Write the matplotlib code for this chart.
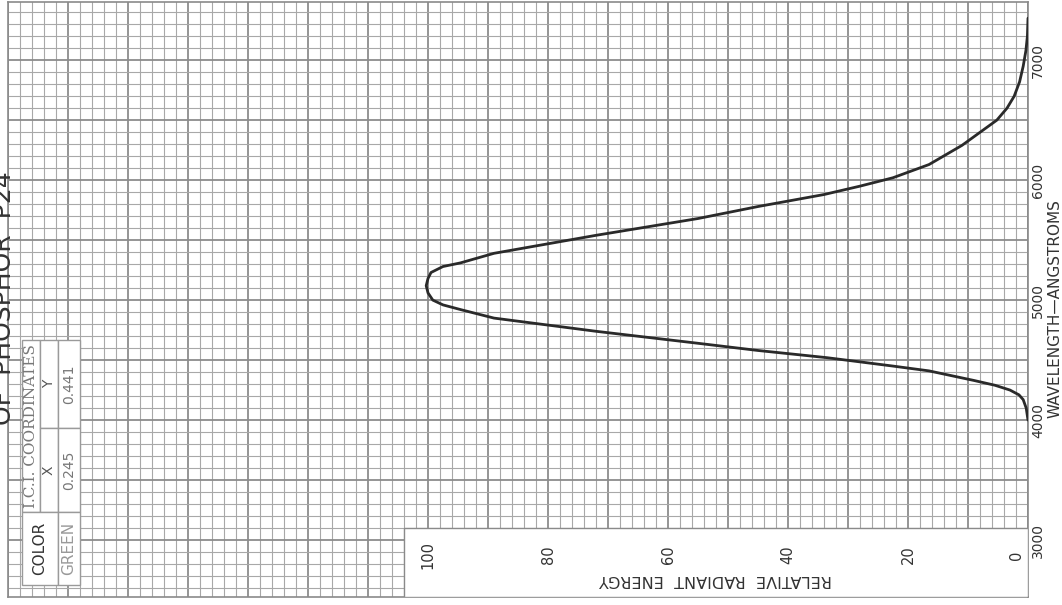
import numpy as np
import matplotlib
matplotlib.use("Agg")
import matplotlib.pyplot as plt
from matplotlib.patches import Rectangle

# spectral energy curve of phosphor P24 (page is scanned rotated 90 deg)
WAVELENGTH = [4000, 4100, 4170, 4210, 4250, 4290, 4330, 4410, 4450, 4520, 4580,
              4640, 4740, 4850, 4920, 4960, 5000, 5060, 5120, 5180, 5230, 5280,
              5310, 5390, 5540, 5680, 5780, 5830, 5880, 5950, 6020, 6130, 6290,
              6500, 6600, 6700, 6820, 6950, 7080, 7200, 7350]
ENERGY = [0, 0.3, 0.8, 1.5, 3.0, 5.5, 9, 16.5, 22.5, 33.5, 45,
          55, 72, 89, 94.5, 97.5, 99.2, 100, 100.3, 100, 99.5, 97.5,
          94.6, 89, 72, 55, 45, 39.5, 34, 28, 22.5, 16.5, 11,
          5.2, 3.5, 2.3, 1.4, 0.8, 0.35, 0.1, 0]

WL_TICKS = [3000, 4000, 5000, 6000, 7000]
EN_TICKS = [0, 20, 40, 60, 80, 100]

COLOR_NAME = "GREEN"
ICI_X = "0.245"
ICI_Y = "0.441"

W, H = 1062, 605
fig = plt.figure(figsize=(W / 100, H / 100), dpi=100)
fig.patch.set_facecolor("white")

# axes placed in pixels
left, right, top, bottom = 8, 1028, 2, 597
ax = fig.add_axes([left / W, (H - bottom) / H, (right - left) / W, (bottom - top) / H])
ax.set_xlim(170, 0)
ax.set_ylim(2525, 7485)
ax.set_xticks([])
ax.set_yticks([])
for s in ax.spines.values():
    s.set_color("#8a8a8a")
    s.set_linewidth(1.2)

minor_c, major_c = "#a8a8a8", "#8c8c8c"
for e in np.arange(0, 172, 2):
    major = e % 10 == 0
    ax.axvline(e, color=major_c if major else minor_c, lw=1.3 if major else 0.8, zorder=1)
for w in np.arange(2600, 7500, 100):
    major = w % 500 == 0
    ax.axhline(w, color=major_c if major else minor_c, lw=1.3 if major else 0.8, zorder=1)

# white box for the energy scale
ax.add_patch(Rectangle((0, 2525), 104, 3100 - 2525, facecolor="white",
                       edgecolor="#8a8a8a", lw=1.0, zorder=3))

for e in EN_TICKS:
    # the 0 label sits just inside the box edge
    ax.text(e if e else 0.6, 2875, str(e), rotation=90,
            ha="center" if e else "right", va="center",
            fontsize=10.5, color="#333333", zorder=5)
ax.text(52, 2667, "RELATIVE  RADIANT  ENERGY", rotation=180, ha="center",
        va="center", fontsize=11.5, color="#333333", zorder=5)

# colour table
tab_c = "#9a9a9a"
cells = [
    ((164.7, 3233), 3.0, 4667 - 3233),   # I.C.I. COORDINATES
    ((161.7, 3933), 3.0, 4667 - 3933),   # Y
    ((161.7, 3233), 3.0, 3933 - 3233),   # X
    ((161.7, 2625), 6.0, 3233 - 2625),   # COLOR
    ((158.0, 3933), 3.7, 4667 - 3933),   # 0.441
    ((158.0, 3233), 3.7, 3933 - 3233),   # 0.245
    ((158.0, 2625), 3.7, 3233 - 2625),   # GREEN
]
for (x0, y0), wd, ht in cells:
    ax.add_patch(Rectangle((x0, y0), wd, ht, facecolor="white",
                           edgecolor=tab_c, lw=1.0, zorder=3))
ax.text(166.2, 3950, "I.C.I. COORDINATES", rotation=90, ha="center", va="center",
        fontsize=11, color="#777777", family="DejaVu Serif", zorder=5)
ax.text(163.2, 4300, "Y", rotation=90, ha="center", va="center",
        fontsize=10, color="#555555", zorder=5)
ax.text(163.2, 3583, "X", rotation=90, ha="center", va="center",
        fontsize=10, color="#555555", zorder=5)
ax.text(164.7, 2929, "COLOR", rotation=90, ha="center", va="center",
        fontsize=11, color="#333333", zorder=5)
ax.text(159.85, 4300, ICI_Y, rotation=90, ha="center", va="center",
        fontsize=10, color="#777777", zorder=5)
ax.text(159.85, 3583, ICI_X, rotation=90, ha="center", va="center",
        fontsize=10, color="#777777", zorder=5)
ax.text(159.85, 2929, COLOR_NAME, rotation=90, ha="center", va="center",
        fontsize=11, color="#999999", zorder=5)

# the curve
ax.plot(ENERGY, WAVELENGTH, color="#2a2a2a", lw=2.0, zorder=6,
        solid_capstyle="round", solid_joinstyle="round")

# wavelength scale on the right edge
trans = ax.get_yaxis_transform()
for w in WL_TICKS:
    ax.text(1.0098, w, str(w), transform=trans, rotation=90, ha="center",
            va="center", fontsize=10, color="#333333", clip_on=False)
ax.text(1.0265, 4933, "WAVELENGTH\u2014ANGSTROMS", transform=trans, rotation=90,
        ha="center", va="center", fontsize=11, color="#333333", clip_on=False)

# title, cut by the left edge of the scan
fig.text(4 / W, 1 - 298 / H, "OF  PHOSPHOR  P24", rotation=90, ha="center",
         va="center", fontsize=18, color="#333333")

fig.savefig("out.png", dpi=100, facecolor="white")
